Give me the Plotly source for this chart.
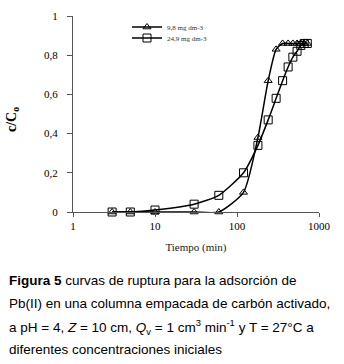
import plotly.graph_objects as go

# Data
t_a = [3, 5, 10, 30, 60, 120, 180, 240, 300, 360, 420, 480, 540, 600, 660, 720]
c_a = [0, 0, 0, 0, 0, 0.10, 0.38, 0.67, 0.83, 0.86, 0.86, 0.86, 0.86, 0.86, 0.86, 0.86]
t_b = [3, 5, 10, 30, 60, 120, 180, 240, 300, 360, 420, 480, 540, 600, 660, 720]
c_b = [0, 0, 0.01, 0.04, 0.085, 0.20, 0.34, 0.47, 0.58, 0.67, 0.74, 0.79, 0.82, 0.85, 0.86, 0.86]
name_a = "9,8 mg dm-3"
name_b = "24,9 mg dm-3"
x_tickvals = [1, 10, 100, 1000]
x_ticktext = ["1", "10", "100", "1000"]
y_tickvals = [0, 0.2, 0.4, 0.6, 0.8, 1]
y_ticktext = ["0", "0,2", "0,4", "0,6", "0,8", "1"]
y_title = "<b>c/C<sub>o</sub></b>"
x_title = "Tiempo (min)"
caption = [
    "<b>Figura 5</b> curvas de ruptura para la adsorción de",
    "Pb(II) en una columna empacada de carbón activado,",
    "a pH = 4, <i>Z</i> = 10 cm, <i>Q</i><sub>v</sub> = 1 cm<sup>3</sup> min<sup>-1</sup> y T = 27°C a",
    "diferentes concentraciones iniciales",
]

L, R, T, B = 73, 25, 16, 152
W, H = 344, 364
pw = W - L - R
ph = H - T - B

def px2x(px):
    return (px - L) / pw

def py2y(py):
    return (H - B - py) / ph

serif = "Liberation Serif, Times New Roman, serif"

fig = go.Figure()
fig.add_trace(go.Scatter(
    x=t_a, y=c_a, name=name_a, mode="lines+markers", legend="legend",
    line=dict(color="black", width=1.5, shape="spline", smoothing=0.6),
    marker=dict(symbol="triangle-up-open", size=7, color="black", line=dict(width=1)),
    cliponaxis=False,
))
fig.add_trace(go.Scatter(
    x=t_b, y=c_b, name=name_b, mode="lines+markers", legend="legend2",
    line=dict(color="black", width=1.5, shape="spline", smoothing=0.6),
    marker=dict(symbol="square-open", size=8, color="black", line=dict(width=1)),
    cliponaxis=False,
))

leg_common = dict(
    xanchor="left", yanchor="middle",
    font=dict(size=7, family=serif, color="#333"),
    bgcolor="rgba(0,0,0,0)", itemwidth=30,
)

fig.update_layout(
    width=W, height=H,
    margin=dict(l=L, r=R, t=T, b=B, autoexpand=False),
    paper_bgcolor="white", plot_bgcolor="white",
    font=dict(family=serif, color="black", size=11),
    showlegend=True,
    legend=dict(x=px2x(127), y=py2y(27), **leg_common),
    legend2=dict(x=px2x(127), y=py2y(38), **leg_common),
    xaxis=dict(
        type="log", range=[0, 3], showgrid=False, zeroline=False, automargin=False,
        showline=True, linecolor="#555", linewidth=1,
        ticks="outside", ticklen=4, tickcolor="#555",
        tickvals=x_tickvals, ticktext=x_ticktext,
        tickfont=dict(size=11, family=serif),
        title=dict(text=x_title, font=dict(size=11, family=serif, color="#222"), standoff=12),
    ),
    yaxis=dict(
        range=[0, 1], showgrid=False, zeroline=False, automargin=False,
        showline=True, linecolor="#555", linewidth=1,
        ticks="outside", ticklen=5, tickcolor="#555",
        ticklabelstandoff=7,
        tickvals=y_tickvals, ticktext=y_ticktext,
        tickfont=dict(size=11, family=serif),
    ),
)

fig.add_annotation(
    text=y_title, xref="paper", yref="paper",
    x=px2x(13), y=py2y(120), xanchor="center", yanchor="middle",
    textangle=-90, showarrow=False,
    font=dict(size=14, family=serif, color="black"),
)

line_y = [280, 303, 327, 349]
for txt, py in zip(caption, line_y):
    fig.add_annotation(
        text=txt, xref="paper", yref="paper",
        x=px2x(7), y=py2y(py), xanchor="left", yanchor="middle",
        showarrow=False, align="left",
        font=dict(family="Liberation Sans, Arial, sans-serif", size=13.5, color="black"),
    )

fig.write_html("out.html", post_script="document.body.style.margin='0';",
               config={"displayModeBar": False})
